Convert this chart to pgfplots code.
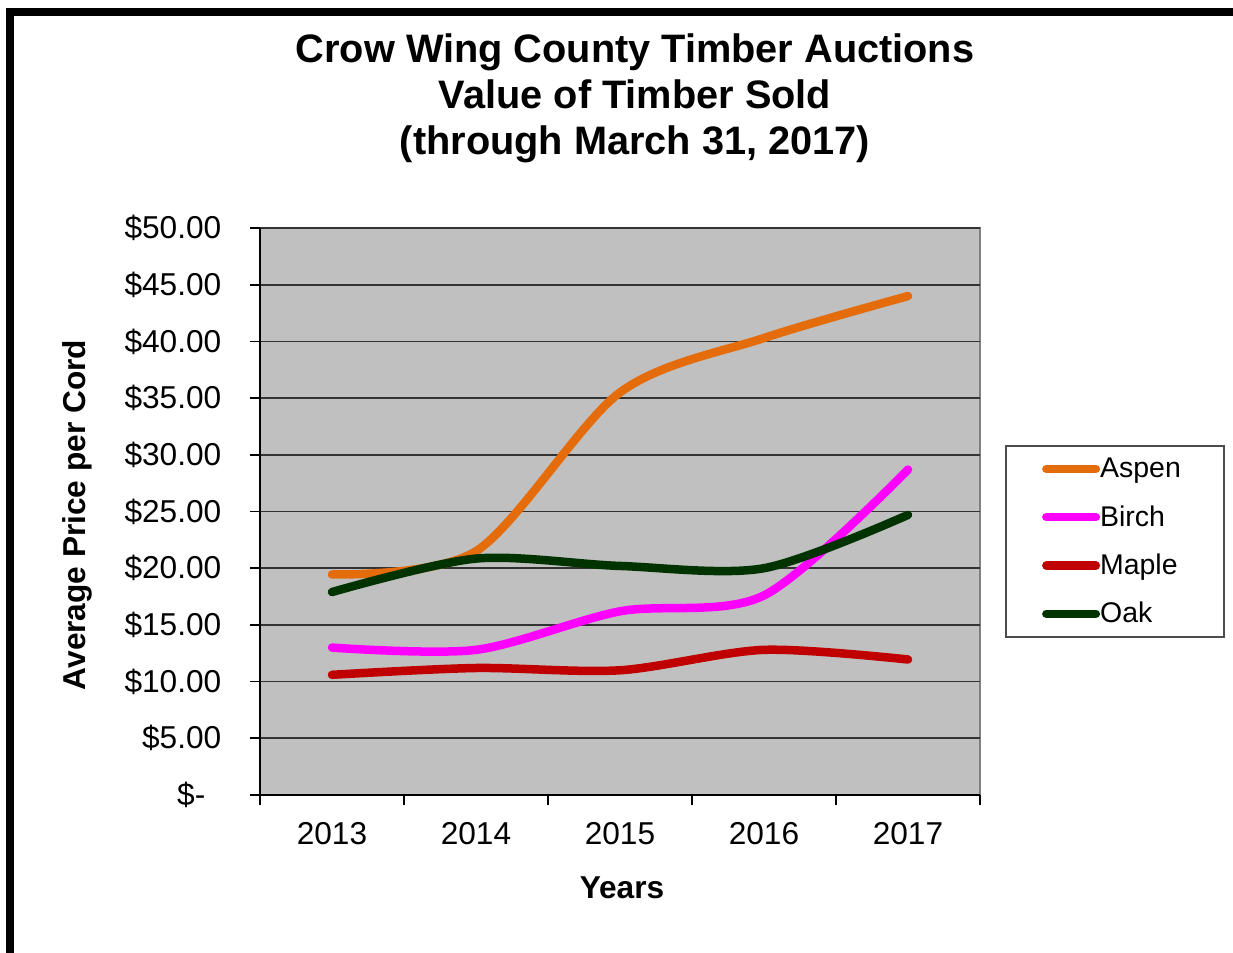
\documentclass[border=0pt]{standalone}
\usepackage{pgfplots}
\pgfplotsset{compat=1.18}
\usepackage{fontspec}
\setmainfont{Liberation Sans}

\definecolor{aspen}{RGB}{228,108,10}
\definecolor{birch}{RGB}{255,0,255}
\definecolor{maple}{RGB}{192,0,0}
\definecolor{oak}{RGB}{0,51,0}
\definecolor{plotbg}{RGB}{192,192,192}

\begin{document}
\begin{tikzpicture}[x=1cm,y=1cm]
\useasboundingbox (0,0) rectangle (12.33,9.52);
% outer frame (right and bottom edges fall outside the page)
\draw[line width=0.08cm, line join=miter] (0.105,-1) -- (0.105,9.40) -- (14,9.40);
\node[align=center, font=\fontsize{11.3}{13.1}\selectfont\bfseries] at (6.35,8.54)
  {Crow Wing County Timber Auctions\\Value of Timber Sold\\(through March 31, 2017)};
\node[rotate=90, font=\fontsize{9}{11}\selectfont\bfseries] at (0.77,4.37) {Average Price per Cord};
\node[font=\fontsize{9}{11}\selectfont\bfseries] at (6.22,0.64) {Years};

\begin{axis}[
  at={(2.60cm,1.57cm)}, anchor=south west,
  scale only axis, width=7.2cm, height=5.67cm,
  xmin=-0.5, xmax=4.5, ymin=0, ymax=50,
  axis lines=left, axis line style={-, black, line width=0.6pt},
  axis background/.style={fill=plotbg, draw=black!50, line width=0.6pt},
  xtick={-0.5,0.5,...,4.5}, xticklabels={},
  extra x ticks={0,1,2,3,4},
  extra x tick labels={2013,2014,2015,2016,2017},
  extra x tick style={major tick length=0pt,
    xticklabel style={anchor=north, inner sep=0pt, yshift=-0.27cm}},
  ytick={0,5,...,50},
  yticklabels={\$-\rule{0.16cm}{0pt},\$5.00,\$10.00,\$15.00,\$20.00,\$25.00,\$30.00,\$35.00,\$40.00,\$45.00,\$50.00},
  yticklabel style={anchor=east, inner sep=0pt, xshift=-0.28cm},
  tick align=outside, major tick length=0.1cm,
  tick style={black, line width=0.5pt},
  ymajorgrids, grid style={black!80, line width=0.5pt},
  ticklabel style={font=\fontsize{9}{11}\selectfont},
  legend style={at={(1.0347,0.6173)}, anchor=north west, draw=black!70, fill=white,
    line width=0.5pt, inner xsep=0.32cm, inner ysep=0.10cm, row sep=0.223cm,
    font=\fontsize{8.1}{10}\selectfont,
    nodes={inner sep=0pt, text height=0.22cm, text depth=0.04cm}},
  legend cell align=left,
  legend image code/.code={
    \path (-0.03cm,0cm) (0.49cm,0cm);
    \draw[#1, line cap=round] (0.0125cm,0cm) -- (0.5075cm,0cm);},
  every axis plot/.append style={line width=0.085cm, smooth, line cap=round, no markers},
]
\addplot[aspen] coordinates {(0,19.45) (1,21.5) (2,35.5) (3,40.3) (4,44.0)};
\addplot[birch] coordinates {(0,13.0) (1,12.8) (2,16.2) (3,17.6) (4,28.7)};
\addplot[maple] coordinates {(0,10.6) (1,11.2) (2,11.0) (3,12.8) (4,11.95)};
\addplot[oak] coordinates {(0,17.9) (1,20.85) (2,20.2) (3,20.0) (4,24.7)};
\legend{Aspen,Birch,Maple\rule{0.14cm}{0pt},Oak}
\end{axis}
\end{tikzpicture}
\end{document}
